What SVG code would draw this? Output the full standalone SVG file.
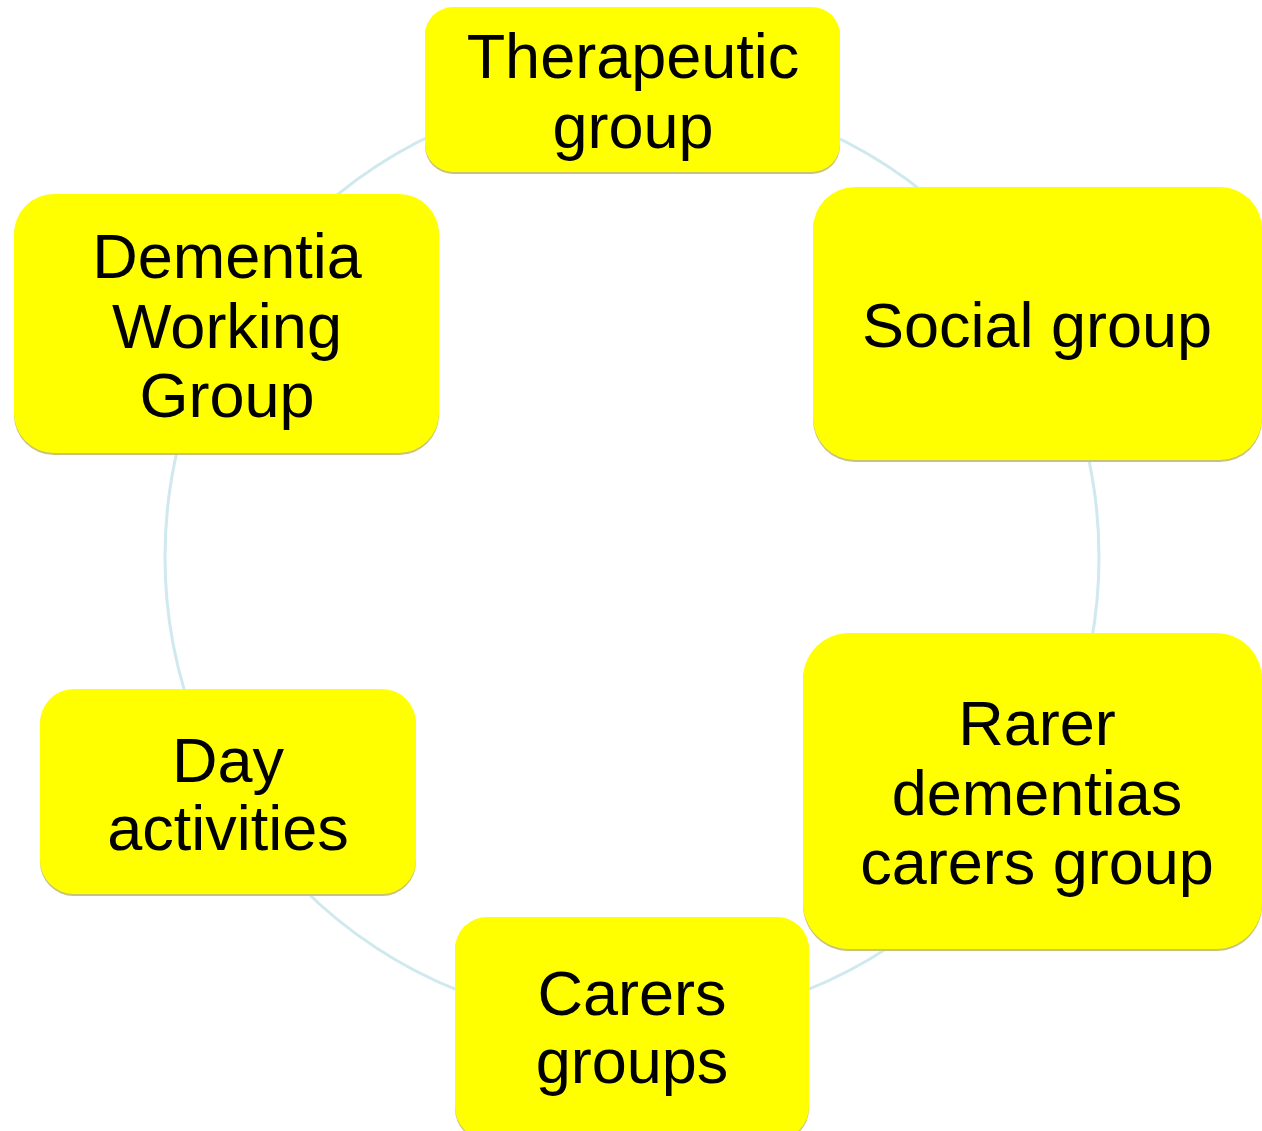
<svg xmlns="http://www.w3.org/2000/svg" width="1262" height="1131" viewBox="0 0 1262 1131">
<style>
.box{fill:#ffff00}
.sh{fill:#c9c27a}
.t{font-family:"Liberation Sans",Arial,sans-serif;font-size:63px;fill:#000;text-anchor:middle}
.ring{fill:none;stroke:#cfe9ee;stroke-width:3}
</style>
<rect width="1262" height="1131" fill="#fff"/>
<g id="connectors">
<circle class="ring" cx="632" cy="557" r="467"/>
</g>
<g id="therapeutic">
<rect class="sh" x="425" y="9" width="415" height="165" rx="28"/>
<rect class="box" x="425" y="7" width="415" height="165" rx="28"/>
<text class="t" x="633" y="78">Therapeutic</text>
<text class="t" x="633" y="148">group</text>
</g>
<g id="social">
<rect class="sh" x="813" y="189" width="449" height="273" rx="42"/>
<rect class="box" x="813" y="187" width="449" height="273" rx="42"/>
<text class="t" x="1037" y="347">Social group</text>
</g>
<g id="dementia">
<rect class="sh" x="14" y="196" width="425" height="259" rx="40"/>
<rect class="box" x="14" y="194" width="425" height="259" rx="40"/>
<text class="t" x="227" y="278">Dementia</text>
<text class="t" x="227" y="348">Working</text>
<text class="t" x="227" y="417">Group</text>
</g>
<g id="day">
<rect class="sh" x="40" y="691" width="376" height="205" rx="34"/>
<rect class="box" x="40" y="689" width="376" height="205" rx="34"/>
<text class="t" x="228" y="782">Day</text>
<text class="t" x="228" y="850">activities</text>
</g>
<g id="rarer">
<rect class="sh" x="803" y="635" width="459" height="316" rx="46"/>
<rect class="box" x="803" y="633" width="459" height="316" rx="46"/>
<text class="t" x="1037" y="745">Rarer</text>
<text class="t" x="1037" y="815">dementias</text>
<text class="t" x="1037" y="884">carers group</text>
</g>
<g id="carers">
<rect class="sh" x="455" y="919" width="354" height="222" rx="32"/>
<rect class="box" x="455" y="917" width="354" height="222" rx="32"/>
<text class="t" x="632" y="1015">Carers</text>
<text class="t" x="632" y="1083">groups</text>
</g>
</svg>
